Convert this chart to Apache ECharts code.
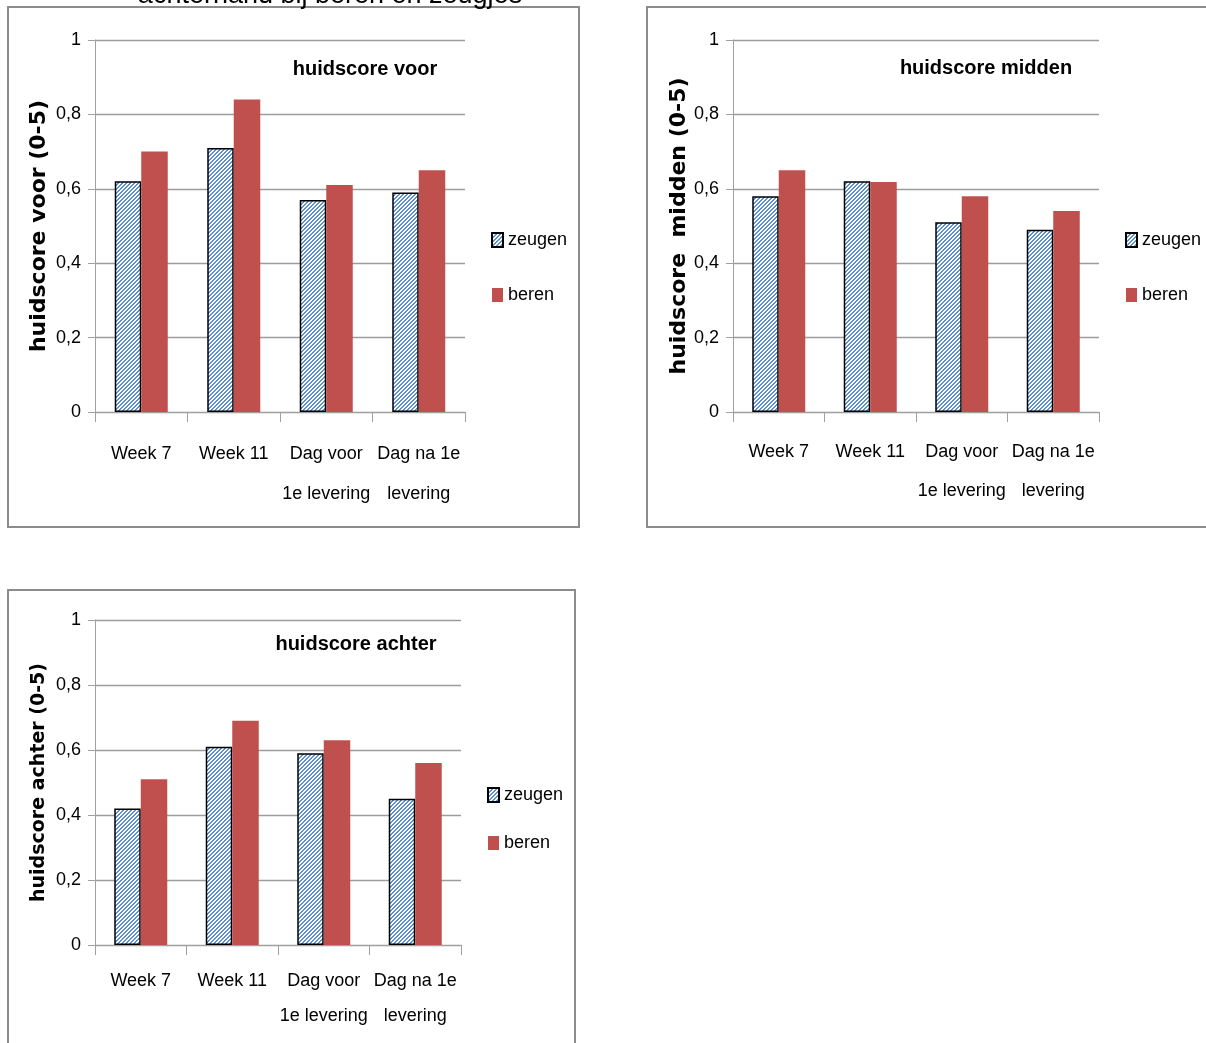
<!DOCTYPE html>
<html><head><meta charset="utf-8">
<script src="https://cdn.jsdelivr.net/npm/echarts@6/dist/echarts.min.js"></script>
<style>html,body{margin:0;padding:0;background:#fff}#c{width:1206px;height:1043px}</style>
</head><body><div id="c"></div>
<script>
const categories = ['Week 7', 'Week 11', 'Dag voor\n1e levering', 'Dag na 1e\nlevering'];
const seriesNames = ['zeugen', 'beren'];
const yTicks = [0, 0.2, 0.4, 0.6, 0.8, 1];
const voorZeugen = [0.62, 0.71, 0.57, 0.59];
const voorBeren = [0.70, 0.84, 0.61, 0.65];
const middenZeugen = [0.58, 0.62, 0.51, 0.49];
const middenBeren = [0.65, 0.618, 0.58, 0.54];
const achterZeugen = [0.42, 0.61, 0.59, 0.45];
const achterBeren = [0.51, 0.69, 0.63, 0.56];
const panelTitles = ['huidscore voor', 'huidscore midden', 'huidscore achter'];
const axisNames = ['huidscore voor (0-5)', 'huidscore  midden (0-5)', 'huidscore achter (0-5)'];
const topText = 'achterhand bij beren en zeugjes';

// hatch pattern
const pc = document.createElement('canvas');
pc.width = 4; pc.height = 4;
const pctx = pc.getContext('2d');
const img = pctx.createImageData(4, 4);
for (let y = 0; y < 4; y++) for (let x = 0; x < 4; x++) {
  const i = (y * 4 + x) * 4;
  const blue = ((x + y) % 4) < 2;
  img.data[i] = blue ? 95 : 255; img.data[i+1] = blue ? 145 : 255; img.data[i+2] = blue ? 205 : 255; img.data[i+3] = 255;
}
pctx.putImageData(img, 0, 0);
const hatch = { image: pc, repeat: 'repeat' };

const sans = '"Liberation Sans", Arial, sans-serif';
const grids = [
  { left: 95, right: 741, top: 40, bottom: 631 },
  { left: 733, right: 107, top: 40, bottom: 631 },
  { left: 95, right: 745, top: 620, bottom: 98 }
];
const nameSizes = [22, 22, 19];
const nameGaps = [45, 43, 46];
const labelMargins = [22, 21, 19];
const labelLineHeights = [40, 39, 35];

const xAxes = grids.map((g, i) => ({
  type: 'category', gridIndex: i, data: categories,
  axisLine: { lineStyle: { color: '#a0a0a0', width: 1 } },
  axisTick: { show: true, length: 10, lineStyle: { color: '#a0a0a0' } },
  axisLabel: { fontFamily: sans, fontSize: 18, color: '#000', margin: labelMargins[i], lineHeight: labelLineHeights[i], interval: 0 }
}));
const yAxes = grids.map((g, i) => ({
  type: 'value', gridIndex: i, min: 0, max: 1, interval: 0.2,
  name: axisNames[i], nameLocation: 'middle', nameRotate: 90, nameGap: nameGaps[i],
  nameTextStyle: { fontFamily: '"DejaVu Sans", sans-serif', fontWeight: 'bold', fontSize: nameSizes[i], color: '#000' },
  axisLine: { show: true, lineStyle: { color: '#a0a0a0', width: 1 } },
  axisTick: { show: true, length: 7, lineStyle: { color: '#a0a0a0' } },
  splitLine: { show: true, lineStyle: { color: '#9c9c9c', width: 1.3 } },
  axisLabel: { fontFamily: sans, fontSize: 18, color: '#000', margin: 14,
    formatter: v => String(Math.round(v * 10) / 10).replace('.', ',') }
}));
const data = [[voorZeugen, voorBeren], [middenZeugen, middenBeren], [achterZeugen, achterBeren]];
const series = [];
data.forEach((pair, i) => {
  series.push({ name: seriesNames[0], type: 'bar', xAxisIndex: i, yAxisIndex: i, data: pair[0],
    barWidth: 26.5, barGap: '0%', itemStyle: { color: hatch, borderColor: '#000', borderWidth: 1.5 } });
  series.push({ name: seriesNames[1], type: 'bar', xAxisIndex: i, yAxisIndex: i, data: pair[1],
    barWidth: 26.5, barGap: '0%', itemStyle: { color: '#c0504d' } });
});
const titles = [
  { text: panelTitles[0], left: 365, top: 59 },
  { text: panelTitles[1], left: 986, top: 58 },
  { text: panelTitles[2], left: 356, top: 634 }
].map(t => ({ text: t.text, left: t.left, top: t.top, textAlign: 'center', padding: 0,
  textStyle: { fontFamily: sans, fontWeight: 'bold', fontSize: 20, color: '#000' } }));
const legendPos = [{ left: 491, top: 228, gap: 31 }, { left: 1125, top: 228, gap: 31 }, { left: 487, top: 783, gap: 24 }];
const legends = legendPos.map(p => ({
  data: seriesNames, orient: 'vertical', left: p.left, top: p.top, itemWidth: 11, itemHeight: 14,
  itemGap: p.gap, icon: 'rect', selectedMode: false, padding: 0,
  textStyle: { fontFamily: sans, fontSize: 18, color: '#000', lineHeight: 24 }
}));
const chart = echarts.init(document.getElementById('c'), null, { renderer: 'canvas' });
chart.setOption({
  animation: false,
  title: titles,
  legend: legends,
  grid: grids,
  xAxis: xAxes,
  yAxis: yAxes,
  series: series,
  graphic: [
    { type: 'rect', shape: { x: 8, y: 7, width: 571, height: 520 }, style: { fill: 'none', stroke: '#8c8c8c', lineWidth: 2 }, z: -1 },
    { type: 'rect', shape: { x: 647, y: 7, width: 600, height: 520 }, style: { fill: 'none', stroke: '#8c8c8c', lineWidth: 2 }, z: -1 },
    { type: 'rect', shape: { x: 8, y: 590, width: 567, height: 500 }, style: { fill: 'none', stroke: '#8c8c8c', lineWidth: 2 }, z: -1 },
    { type: 'text', x: 330, y: 9, style: { text: topText, textAlign: 'center', textVerticalAlign: 'bottom',
      font: '27px "Liberation Sans", Arial, sans-serif', fill: '#000' } }
  ]
});
</script></body></html>
